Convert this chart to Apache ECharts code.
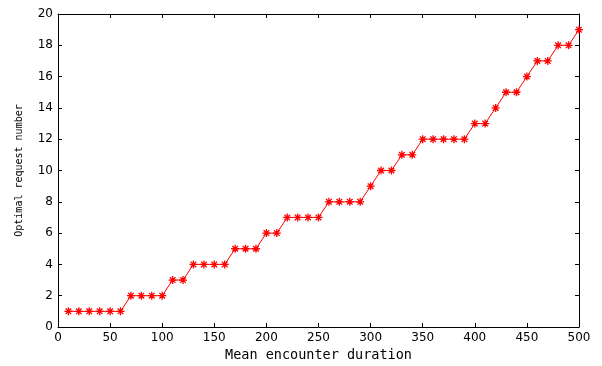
<!DOCTYPE html>
<html>
<head>
<meta charset="utf-8">
<script src="https://cdn.jsdelivr.net/npm/echarts@6/dist/echarts.min.js"></script>
<style>html,body{margin:0;padding:0;background:#fff}#c{width:602px;height:366px}</style>
</head>
<body>
<div id="c"></div>
<script>
const durations = [10,20,30,40,50,60,70,80,90,100,110,120,130,140,150,160,170,180,190,200,210,220,230,240,250,260,270,280,290,300,310,320,330,340,350,360,370,380,390,400,410,420,430,440,450,460,470,480,490,500];
const requestNumbers = [1,1,1,1,1,1,2,2,2,2,3,3,4,4,4,4,5,5,5,6,6,7,7,7,7,8,8,8,8,9,10,10,11,11,12,12,12,12,12,13,13,14,15,15,16,17,17,18,18,19];
const xTitle = 'Mean encounter duration';
const yTitle = 'Optimal request number';

const chart = echarts.init(document.getElementById('c'), null, {renderer: 'canvas'});
const tickFont = {fontFamily: 'DejaVu Sans', fontSize: 12, color: '#000'};
const axisLine = {show: true, onZero: false, lineStyle: {color: '#000', width: 1}};
const tick = {show: true, inside: true, length: 4, lineStyle: {color: '#000'}};
const star = 'path://M0,5 L10,5 M5,0 L5,10 M1.5,1.5 L8.5,8.5 M8.5,1.5 L1.5,8.5';

chart.setOption({
  animation: false,
  backgroundColor: '#fff',
  grid: {left: 58, right: 23, top: 14, bottom: 39, containLabel: false, outerBoundsMode: 'none'},
  xAxis: [{
    type: 'value', min: 0, max: 500, interval: 50, position: 'bottom',
    name: xTitle, nameLocation: 'middle', nameGap: 21,
    nameTextStyle: {fontFamily: 'DejaVu Sans Mono', fontSize: 13.5, color: '#000'},
    axisLine: axisLine, axisTick: tick, splitLine: {show: false},
    axisLabel: Object.assign({margin: 5}, tickFont)
  }, {
    type: 'value', min: 0, max: 500, interval: 50, position: 'top',
    axisLine: axisLine, axisTick: tick, splitLine: {show: false},
    axisLabel: {show: false}
  }],
  yAxis: [{
    type: 'value', min: 0, max: 20, interval: 2, position: 'left',
    name: yTitle, nameLocation: 'middle', nameGap: 34,
    nameTextStyle: {fontFamily: 'DejaVu Sans Mono', fontSize: 10, color: '#000'},
    axisLine: axisLine, axisTick: tick, splitLine: {show: false},
    axisLabel: Object.assign({margin: 5}, tickFont)
  }, {
    type: 'value', min: 0, max: 20, interval: 2, position: 'right',
    axisLine: axisLine, axisTick: tick, splitLine: {show: false},
    axisLabel: {show: false}
  }],
  series: [{
    type: 'line',
    xAxisIndex: 0, yAxisIndex: 0,
    data: durations.map((d, i) => [d, requestNumbers[i]]),
    lineStyle: {color: '#ff0000', width: 1},
    symbol: star, symbolSize: 8,
    itemStyle: {color: '#ff0000', borderColor: '#ff0000', borderWidth: 1.3},
    emphasis: {disabled: true}
  }]
});
</script>
</body>
</html>
